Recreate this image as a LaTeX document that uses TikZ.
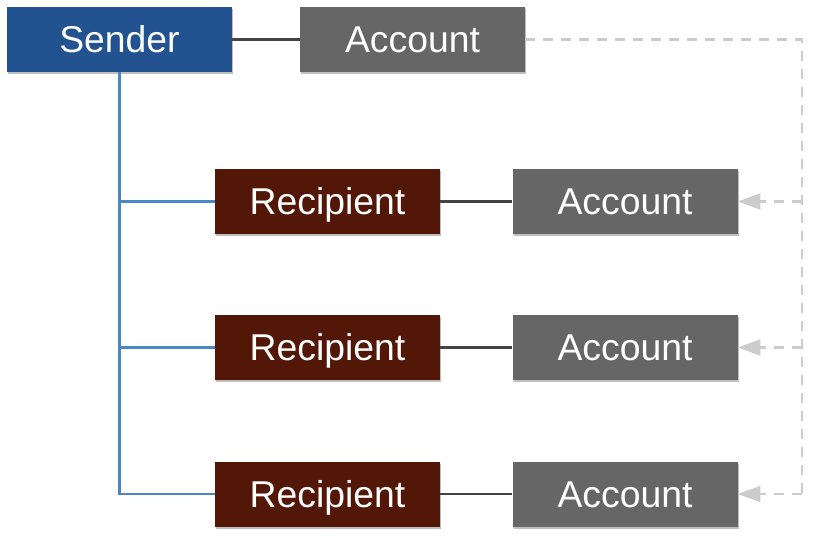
\documentclass[tikz,border=0pt]{standalone}
\usepackage{fontspec}
\setmainfont{Liberation Sans}
\usetikzlibrary{arrows.meta,shadows}

\begin{document}
\begin{tikzpicture}[x=0.75pt, y=-0.75pt]

    % 颜色
    \definecolor{SenderBlue}{RGB}{34, 82, 143}
    \definecolor{RecipientRed}{RGB}{83, 23, 8}
    \definecolor{AccountGray}{RGB}{102, 102, 102}
    \definecolor{TreeBlue}{RGB}{74, 134, 200}
    \definecolor{LinkGray}{RGB}{67, 67, 67}
    \definecolor{RefGray}{RGB}{204, 204, 204}

    \tikzset{
        box/.style={minimum width=168.75pt, minimum height=48.75pt, inner sep=0pt,
            text=white, font=\fontsize{28}{32}\selectfont,
            text height=24pt, text depth=4pt,
            drop shadow={shadow xshift=1pt, shadow yshift=-1.5pt, opacity=0.25, fill=black}},
        sender/.style={box, fill=SenderBlue},
        recipient/.style={box, fill=RecipientRed},
        account/.style={box, fill=AccountGray},
        treeline/.style={draw=TreeBlue, line width=1.6pt},
        pairline/.style={draw=LinkGray, line width=1.6pt},
        refline/.style={draw=RefGray, line width=1.6pt, dash pattern=on 7.5pt off 6pt},
        reftip/.style={-{Triangle[length=17pt, width=12pt]}}
    }

    \useasboundingbox (0,0) rectangle (814,538);

    % 结点
    \node[sender] (snd) at (119.5, 39.5) {Sender};
    \node[account] (acc0) at (412.5, 39.5) {Account};
    \node[recipient] (rcp1) at (327.5, 201.5) {Recipient};
    \node[account] (acc1) at (625, 201.5) {Account};
    \node[recipient] (rcp2) at (327.5, 347.5) {Recipient};
    \node[account] (acc2) at (625, 347.5) {Account};
    \node[recipient] (rcp3) at (327.5, 494) {Recipient};
    \node[account] (acc3) at (625, 494) {Account};
    \coordinate (rail) at (802, 0);

    % 连线
    \draw[pairline] (snd.east) -- (acc0.west);
    \draw[pairline] (rcp1.east) -- (acc1.west);
    \draw[pairline] (rcp2.east) -- (acc2.west);
    \draw[pairline] (rcp3.east) -- (acc3.west);

    \draw[treeline] (snd.south) |- (rcp3.west);
    \draw[treeline] (snd.south |- rcp1.west) -- (rcp1.west);
    \draw[treeline] (snd.south |- rcp2.west) -- (rcp2.west);

    % 虚线箭头
    \draw[refline] (acc0.east) -| (rail |- acc3.east);
    \draw[refline, reftip] (rail |- acc1.east) -- (acc1.east);
    \draw[refline, reftip] (rail |- acc2.east) -- (acc2.east);
    \draw[refline, reftip] (rail |- acc3.east) -- (acc3.east);

\end{tikzpicture}
\end{document}
